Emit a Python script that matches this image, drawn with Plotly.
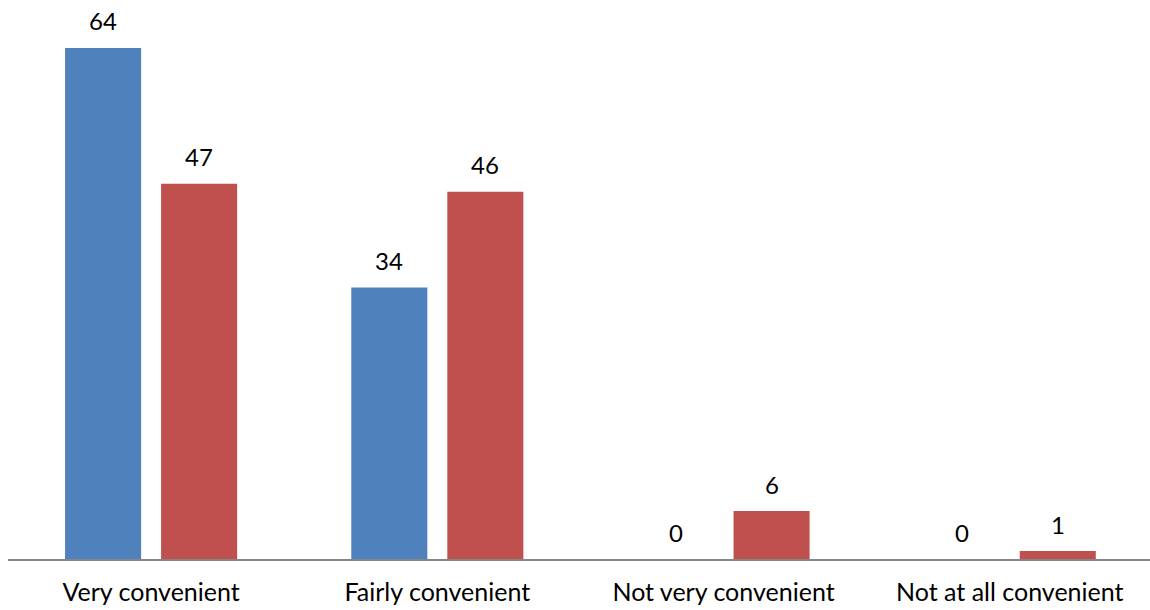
import plotly.graph_objects as go

categories = ["Very convenient", "Fairly convenient", "Not very convenient", "Not at all convenient"]
series_a = [64, 34, 0, 0]
series_b = [47, 46, 6, 1]

BLUE = "#4F81BD"
RED = "#C0504D"
FONT = "Lato"

fig = go.Figure()
fig.add_trace(go.Bar(x=categories, y=series_a, marker=dict(color=BLUE, line=dict(width=0)), name="A"))
fig.add_trace(go.Bar(x=categories, y=series_b, marker=dict(color=RED, line=dict(width=0)), name="B"))

# value labels above each bar, shifted to each bar's slot within the group
annotations = []
for vals, shift in ((series_a, -48), (series_b, 48)):
    for cat, v in zip(categories, vals):
        annotations.append(dict(
            x=cat, y=v, xref="x", yref="y", text=str(v), showarrow=False,
            xshift=shift, yshift=27, yanchor="middle",
            font=dict(family=FONT, size=24, color="#000000"),
        ))

fig.update_layout(
    width=1150, height=610,
    margin=dict(l=8, r=0, t=0, b=51),
    paper_bgcolor="white", plot_bgcolor="white",
    barmode="group", bargap=0.329, bargroupgap=0.208,
    showlegend=False,
    annotations=annotations,
    font=dict(family=FONT, size=24, color="#000000"),
)
fig.update_xaxes(
    range=[-0.5, 3.49],
    showline=True, linecolor="#868686", linewidth=1.5,
    showgrid=False, ticks="outside", ticklen=10, tickcolor="rgba(0,0,0,0)",
    tickfont=dict(family=FONT, size=25, color="#000000"),
)
fig.update_yaxes(range=[0, 70], visible=False, showgrid=False)

fig.write_html("out.html")
